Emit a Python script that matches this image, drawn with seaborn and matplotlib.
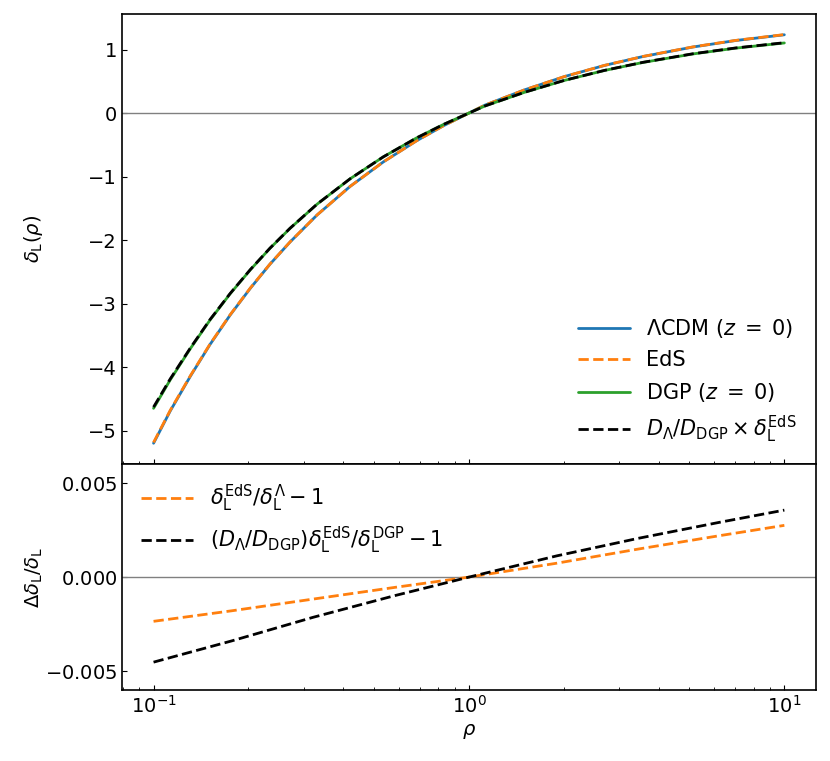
import numpy as np
import pandas as pd
import matplotlib
matplotlib.use("Agg")
import matplotlib.pyplot as plt
import seaborn as sns

# values
rho = [0.1, 0.113, 0.131, 0.151, 0.175, 0.203, 0.234, 0.271, 0.33, 0.42, 0.535,
       0.683, 0.83, 1.0, 1.124, 1.5, 2.01, 2.69, 3.56, 5.13, 7.0, 10.0]
delta_lcdm = [-5.2, -4.69, -4.14, -3.645, -3.18, -2.755, -2.38, -2.03, -1.605, -1.155, -0.77,
              -0.435, -0.2, 0.0, 0.125, 0.365, 0.575, 0.75, 0.89, 1.04, 1.142, 1.233]
delta_eds = [-5.188, -4.68, -4.132, -3.639, -3.175, -2.751, -2.377, -2.028, -1.604, -1.155, -0.77,
             -0.435, -0.2, 0.0, 0.125, 0.365, 0.576, 0.751, 0.891, 1.042, 1.144, 1.236]
delta_dgp = [-4.65, -4.20, -3.705, -3.26, -2.845, -2.465, -2.13, -1.815, -1.435, -1.035, -0.69,
             -0.39, -0.18, 0.0, 0.112, 0.327, 0.515, 0.671, 0.797, 0.931, 1.022, 1.104]
delta_dgp_scaled = [-4.63, -4.185, -3.695, -3.252, -2.84, -2.461, -2.127, -1.813, -1.434, -1.035, -0.69,
                    -0.39, -0.18, 0.0, 0.112, 0.327, 0.516, 0.672, 0.799, 0.934, 1.025, 1.108]

rho_res = [0.1, 0.177, 0.32, 0.58, 1.0, 1.9, 3.44, 6.22, 10.0]
res_eds = [-0.00235, -0.00179, -0.00117, -0.00055, 0.0, 0.00074, 0.00149, 0.0022, 0.00275]
res_dgp = [-0.00452, -0.00339, -0.00214, -0.00099, 0.0, 0.00113, 0.00206, 0.00291, 0.00356]

sns.set_style("ticks")
plt.rcParams['font.family'] = ['DejaVu Sans']
plt.rcParams['mathtext.fontset'] = 'dejavusans'
plt.rcParams['font.size'] = 14
plt.rcParams['text.color'] = 'black'
plt.rcParams['axes.labelcolor'] = 'black'
plt.rcParams['xtick.color'] = 'black'
plt.rcParams['ytick.color'] = 'black'
plt.rcParams['xtick.direction'] = 'in'
plt.rcParams['ytick.direction'] = 'in'
plt.rcParams['axes.edgecolor'] = 'black'
plt.rcParams['axes.linewidth'] = 1.2

fig = plt.figure(figsize=(8.3, 7.61), dpi=100)
ax1 = fig.add_axes([0.147, 0.390, 0.836, 0.5916])
ax2 = fig.add_axes([0.147, 0.0933, 0.836, 0.2967], sharex=ax1)

top = pd.DataFrame({'rho': rho, 'lcdm': delta_lcdm, 'eds': delta_eds,
                    'dgp': delta_dgp, 'scaled': delta_dgp_scaled})
bot = pd.DataFrame({'rho': rho_res, 'eds': res_eds, 'dgp': res_dgp})

ax1.axhline(0, color='gray', lw=1)
sns.lineplot(data=top, x='rho', y='lcdm', ax=ax1, color='C0', lw=2,
             label=r'$\Lambda$CDM ($z\;=\;0$)')
sns.lineplot(data=top, x='rho', y='eds', ax=ax1, color='C1', lw=2,
             linestyle='--', label='EdS')
sns.lineplot(data=top, x='rho', y='dgp', ax=ax1, color='C2', lw=2,
             label=r'DGP ($z\;=\;0$)')
sns.lineplot(data=top, x='rho', y='scaled', ax=ax1, color='black', lw=2,
             linestyle='--', label=r'$D_\Lambda/D_{\rm DGP}\times\delta_{\rm L}^{\rm EdS}$')

ax2.axhline(0, color='gray', lw=1)
sns.lineplot(data=bot, x='rho', y='eds', ax=ax2, color='C1', lw=2, linestyle='--',
             label=r'$\delta_{\rm L}^{\rm EdS}/\delta_{\rm L}^{\Lambda}-1$')
sns.lineplot(data=bot, x='rho', y='dgp', ax=ax2, color='black', lw=2, linestyle='--',
             label=r'$(D_\Lambda/D_{\rm DGP})\delta_{\rm L}^{\rm EdS}/\delta_{\rm L}^{\rm DGP}-1$')

ax1.set_xscale('log')
ax1.set_ylim(-5.53, 1.56)
ax1.set_yticks([-5, -4, -3, -2, -1, 0, 1])
ax2.set_ylim(-0.006, 0.006)
ax2.set_yticks([-0.005, 0.0, 0.005])
ax2.set_yticklabels(['$-0.005$', '$0.000$', '$0.005$'])

ax1.set_xlabel('')
ax1.set_ylabel(r'$\delta_{\rm L}(\rho)$')
ax1.tick_params(axis='x', labelbottom=False)
ax2.set_xlabel(r'$\rho$')
ax2.set_ylabel(r'$\Delta\delta_{\rm L}/\delta_{\rm L}$')
ax1.yaxis.set_label_coords(-0.111, 0.5)
ax2.yaxis.set_label_coords(-0.111, 0.5)

ax1.legend(loc='lower right', frameon=False, handlelength=2.5, fontsize=15)
ax2.legend(loc='upper left', frameon=False, handlelength=2.5, fontsize=15)

fig.savefig('out.png', dpi=100)
